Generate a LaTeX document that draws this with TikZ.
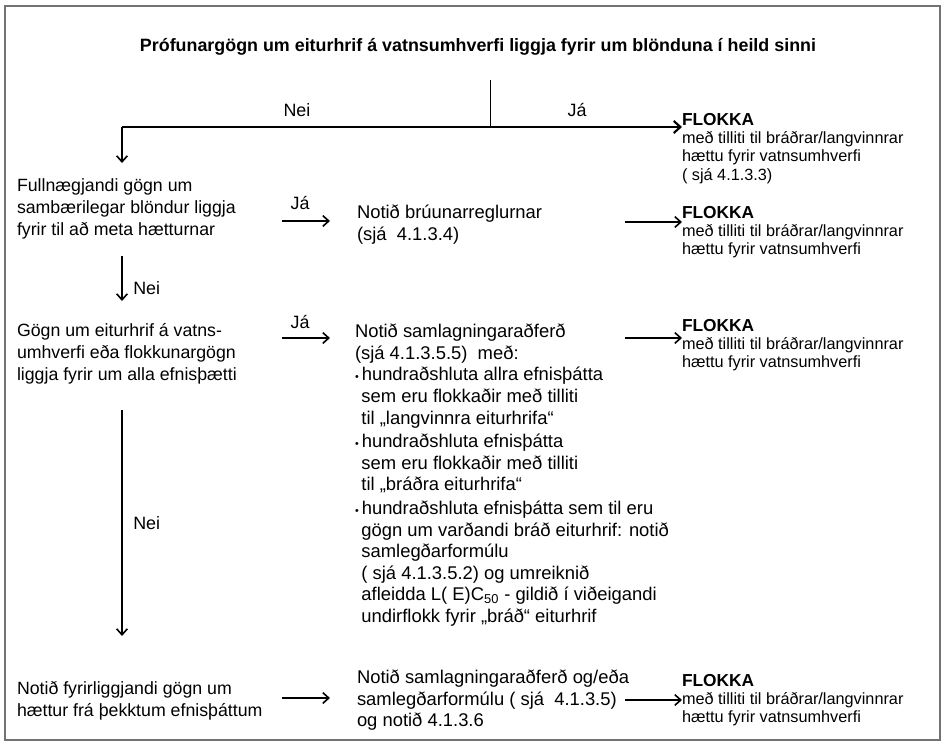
\documentclass[tikz,border=0pt]{standalone}
\usepackage{fontspec}
\setmainfont{Liberation Sans}
\usetikzlibrary{arrows.meta}
\newcommand{\classhead}{{\bfseries\fontsize{13}{13.8}\selectfont FLOKKA}}
\begin{document}
\begin{tikzpicture}[x=0.75pt,y=-0.75pt,
  txt/.style={inner sep=0pt, outer sep=0pt, align=left, anchor=north west},
  lefttext/.style={txt, font=\fontsize{13.3}{16.5}\selectfont},
  midtext/.style={txt, font=\fontsize{13.8}{16.2}\selectfont},
  resulttext/.style={txt, font=\fontsize{12.2}{13.8}\selectfont},
  titletext/.style={inner sep=0pt, font=\bfseries\fontsize{13.4}{15}\selectfont},
  answer/.style={inner sep=0pt, font=\fontsize{13.4}{15}\selectfont},
  arr/.style={line width=1.2pt, -{Straight Barb[length=4.5pt,width=8pt]}},
  mainarr/.style={line width=1.6pt, -{Straight Barb[length=5pt,width=9pt]}},
  thin/.style={line width=0.75pt}]
\useasboundingbox (0,0) rectangle (946,746);
% outer frame
\draw[line width=0.9pt, black!55] (5,6) rectangle (940,740);

% top question and first split
\node[titletext] (title) at (478,47) {Prófunargögn um eiturhrif á vatnsumhverfi liggja fyrir um blönduna í heild sinni};
\coordinate (split) at (490,80);
\coordinate (junction) at (490,127);
\coordinate (cornerL) at (122,127);
\node[resulttext] (res1) at (682,113) {\classhead\\með tilliti til bráðrar/langvinnrar\\hættu fyrir vatnsumhverfi\\( sjá 4.1.3.3)};
\draw[thin] (split) -- (junction);
\draw[mainarr] (cornerL) -- (cornerL -| res1.west);
\node[answer] (nei0) at (297,110) {Nei};
\node[answer] (ja0) at (577,110) {Já};

% second question
\node[lefttext] (q1) at (17,179) {Fullnægjandi gögn um\\sambærilegar blöndur liggja\\fyrir til að meta hætturnar};
\coordinate (d0e) at (122,163);
\draw[arr] (cornerL) -- (d0e);
\coordinate (j1s) at (282,221);
\coordinate (j1e) at (330,221);
\draw[arr] (j1s) -- (j1e);
\node[answer] (ja1) at (300,203) {Já};
\node[midtext] (a1) at (357,205) {Notið brúunarreglurnar\\(sjá\ \ 4.1.3.4)};
\coordinate (r1s) at (625,222);
\node[resulttext] (res2) at (682,206) {\classhead\\með tilliti til bráðrar/langvinnrar\\hættu fyrir vatnsumhverfi};
\draw[arr] (r1s) -- (r1s -| res2.west);

% third question
\node[lefttext] (q2) at (17,323) {Gögn um eiturhrif á vatns-\\umhverfi eða flokkunargögn\\liggja fyrir um alla efnisþætti};
\coordinate (n1s) at (122,256);
\coordinate (n1e) at (122,301);
\draw[arr] (n1s) -- (n1e);
\node[answer, anchor=west] (nei1) at (133,288) {Nei};
\coordinate (j2s) at (282,338);
\coordinate (j2e) at (330,338);
\draw[arr] (j2s) -- (j2e);
\node[answer] (ja2) at (300,322) {Já};
\node[midtext] (a2) at (355,324) {Notið samlagningaraðferð\\
(sjá 4.1.3.5.5)\ \ með:\\
{\footnotesize•}\,hundraðshluta allra efnisþátta\\
\hspace{0.35em}sem eru flokkaðir með tilliti\\
\hspace{0.35em}til „langvinnra eiturhrifa“\\[1.5pt]
{\footnotesize•}\,hundraðshluta efnisþátta\\
\hspace{0.35em}sem eru flokkaðir með tilliti\\
\hspace{0.35em}til „bráðra eiturhrifa“\\[1.5pt]
{\footnotesize•}\,hundraðshluta efnisþátta sem til eru\\
\hspace{0.35em}gögn um varðandi bráð eiturhrif: notið\\
\hspace{0.35em}samlegðarformúlu\\
\hspace{0.35em}( sjá 4.1.3.5.2) og umreiknið\\
\hspace{0.35em}afleidda L( E)C\textsubscript{50} - gildið í viðeigandi\\
\hspace{0.35em}undirflokk fyrir „bráð“ eiturhrif};
\coordinate (r2s) at (625,338);
\node[resulttext] (res3) at (682,319) {\classhead\\með tilliti til bráðrar/langvinnrar\\hættu fyrir vatnsumhverfi};
\draw[arr] (r2s) -- (r2s -| res3.west);

% fall-back: known component hazards
\node[lefttext] (q3) at (17,681) {Notið fyrirliggjandi gögn um\\hættur frá þekktum efnisþáttum};
\coordinate (n2s) at (122,410);
\coordinate (n2e) at (122,636);
\draw[arr] (n2s) -- (n2e);
\node[answer, anchor=west] (nei2) at (133,523) {Nei};
\coordinate (j3s) at (282,698);
\coordinate (j3e) at (330,698);
\draw[arr] (j3s) -- (j3e);
\node[midtext] (a3) at (357,670) {Notið samlagningaraðferð og/eða\\samlegðarformúlu ( sjá\ \ 4.1.3.5)\\og notið 4.1.3.6};
\coordinate (r3s) at (625,700);
\node[resulttext] (res4) at (682,674) {\classhead\\með tilliti til bráðrar/langvinnrar\\hættu fyrir vatnsumhverfi};
\draw[arr] (r3s) -- (r3s -| res4.west);
\end{tikzpicture}
\end{document}
